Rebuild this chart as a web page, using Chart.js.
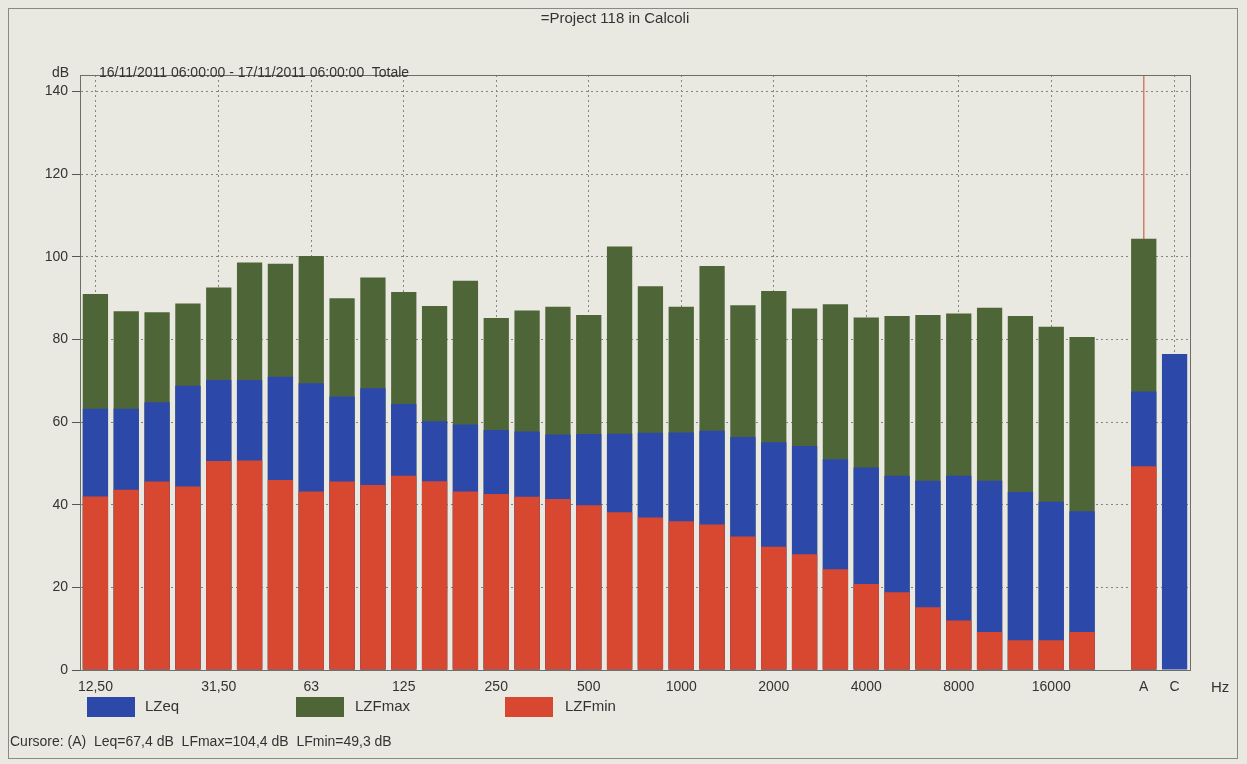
<!DOCTYPE html>
<html>
<head>
<meta charset="utf-8">
<title>Project 118 in Calcoli</title>
<script src="https://cdn.jsdelivr.net/npm/chart.js@4.4.1/dist/chart.umd.min.js"></script>
<style>
  body { margin: 0; background: #e9e9e1; font-family: "Liberation Sans", Arial, sans-serif; color: #333; }
  #wrap { position: relative; width: 1247px; height: 764px; overflow: hidden; }
  #chart { position: absolute; left: 0; top: 0; }
  #frame { position: absolute; left: 8px; top: 8px; width: 1228px; height: 749px; border: 1px solid #8a8a84; }
  .txt { position: absolute; white-space: pre; }
  #title { top: 9px; left: 0; width: 1230px; text-align: center; font-size: 15px; }
  #unit { left: 52px; top: 64px; font-size: 14px; }
  #period { left: 99px; top: 64px; font-size: 14px; }
  #hz { left: 1211px; top: 678px; font-size: 15px; }
  .sw { position: absolute; top: 697px; width: 48px; height: 20px; }
  .lg { top: 697px; font-size: 15px; }
  #cursor { left: 10px; top: 733px; font-size: 14px; }
</style>
</head>
<body>
<div id="wrap">
  <div id="frame"></div>
  <canvas id="chart" width="1247" height="764"></canvas>
  <div class="txt" id="title">=Project 118 in Calcoli</div>
  <div class="txt" id="unit">dB</div>
  <div class="txt" id="period">16/11/2011 06:00:00 - 17/11/2011 06:00:00  Totale</div>
  <div class="txt" id="hz">Hz</div>
  <div class="sw" style="left:87px;background:#2c48a8"></div>
  <div class="txt lg" style="left:145px">LZeq</div>
  <div class="sw" style="left:296px;background:#4e6637"></div>
  <div class="txt lg" style="left:355px">LZFmax</div>
  <div class="sw" style="left:505px;background:#d8472f"></div>
  <div class="txt lg" style="left:565px">LZFmin</div>
  <div class="txt" id="cursor">Cursore: (A)  Leq=67,4 dB  LFmax=104,4 dB  LFmin=49,3 dB</div>
</div>
<script>
// third-octave bands, an empty slot, then the A and C totals
const bands = ["12,50", "16", "20", "25", "31,50", "40", "50", "63", "80", "100", "125", "160",
  "200", "250", "315", "400", "500", "630", "800", "1000", "1250", "1600", "2000", "2500",
  "3150", "4000", "5000", "6300", "8000", "10000", "12500", "16000", "20000", "", "A", "C"];
const shownTicks = ["12,50", "31,50", "63", "125", "250", "500", "1000", "2000", "4000", "8000", "16000", "A", "C"];
const cursorBand = "A";
const yTicks = [0, 20, 40, 60, 80, 100, 120, 140];

const lzfmax = [91.0, 86.8, 86.6, 88.7, 92.6, 98.6, 98.3, 100.2, 90.0, 95.0, 91.5, 88.1,
  94.2, 85.2, 87.0, 87.9, 85.9, 102.5, 92.9, 87.9, 97.8, 88.3, 91.7, 87.5,
  88.5, 85.3, 85.7, 85.9, 86.3, 87.7, 85.7, 83.1, 80.6, null, 104.4, null];
const lzeq = [63.2, 63.2, 64.8, 68.8, 70.2, 70.2, 71.0, 69.4, 66.2, 68.2, 64.4, 60.2,
  59.4, 58.1, 57.7, 57.0, 57.1, 57.2, 57.4, 57.5, 57.9, 56.4, 55.1, 54.2,
  51.0, 49.0, 47.0, 45.8, 47.0, 45.8, 43.1, 40.7, 38.4, null, 67.4, 76.5];
const lzfmin = [42.0, 43.6, 45.6, 44.4, 50.6, 50.7, 46.0, 43.2, 45.6, 44.8, 47.0, 45.7,
  43.2, 42.6, 41.9, 41.4, 39.9, 38.2, 36.9, 36.0, 35.2, 32.3, 29.8, 28.0,
  24.4, 20.8, 18.8, 15.2, 12.0, 9.2, 7.2, 7.2, 9.2, null, 49.3, null];

// box around the plot area
const plotFrame = {
  id: "plotFrame",
  afterDraw(chart) {
    const { ctx, chartArea: a } = chart;
    ctx.save();
    ctx.strokeStyle = "#6e6e68";
    ctx.lineWidth = 1;
    ctx.strokeRect(a.left + 0.5, a.top + 0.5, a.right - a.left, a.bottom - a.top);
    ctx.restore();
  }
};

const barOpts = { grouped: false, barPercentage: 0.82, categoryPercentage: 1.0, borderWidth: 0 };

new Chart(document.getElementById("chart"), {
  type: "bar",
  data: {
    labels: bands,
    datasets: [
      { label: "LZFmax", data: lzfmax, backgroundColor: "#4e6637", order: 3, ...barOpts },
      { label: "LZeq", data: lzeq, backgroundColor: "#2c48a8", order: 2, ...barOpts },
      { label: "LZFmin", data: lzfmin, backgroundColor: "#d8472f", order: 1, ...barOpts }
    ]
  },
  options: {
    responsive: false,
    animation: false,
    layout: { padding: { left: 40, right: 57, top: 75, bottom: 64 } },
    plugins: { legend: { display: false }, tooltip: { enabled: false } },
    scales: {
      x: {
        offset: true,
        afterFit: (s) => { s.height = 30; },
        grid: {
          offset: false,
          drawTicks: false,
          lineWidth: (c) => bands[c.index] === cursorBand ? 1.5 : 1,
          color: (c) => {
            const b = bands[c.index];
            if (b === cursorBand) return "#d0806c";
            return shownTicks.includes(b) ? "#85857e" : "rgba(0,0,0,0)";
          }
        },
        border: { color: "#6e6e68", dash: (c) => bands[c.index] === cursorBand ? [] : [2, 3] },
        ticks: {
          autoSkip: false,
          maxRotation: 0,
          padding: 9,
          color: "#333",
          font: { family: "Liberation Sans", size: 14 },
          callback: (v, i) => shownTicks.includes(bands[i]) ? bands[i] : ""
        }
      },
      y: {
        min: 0,
        max: 144,
        afterFit: (s) => { s.width = 40; },
        afterBuildTicks: (s) => { s.ticks = yTicks.map((v) => ({ value: v })); },
        grid: { color: "#85857e", tickColor: "#555", tickLength: 8 },
        border: { color: "#6e6e68", dash: [2, 3] },
        ticks: { padding: 4, color: "#333", font: { family: "Liberation Sans", size: 14 } }
      }
    }
  },
  plugins: [plotFrame]
});
</script>
</body>
</html>
